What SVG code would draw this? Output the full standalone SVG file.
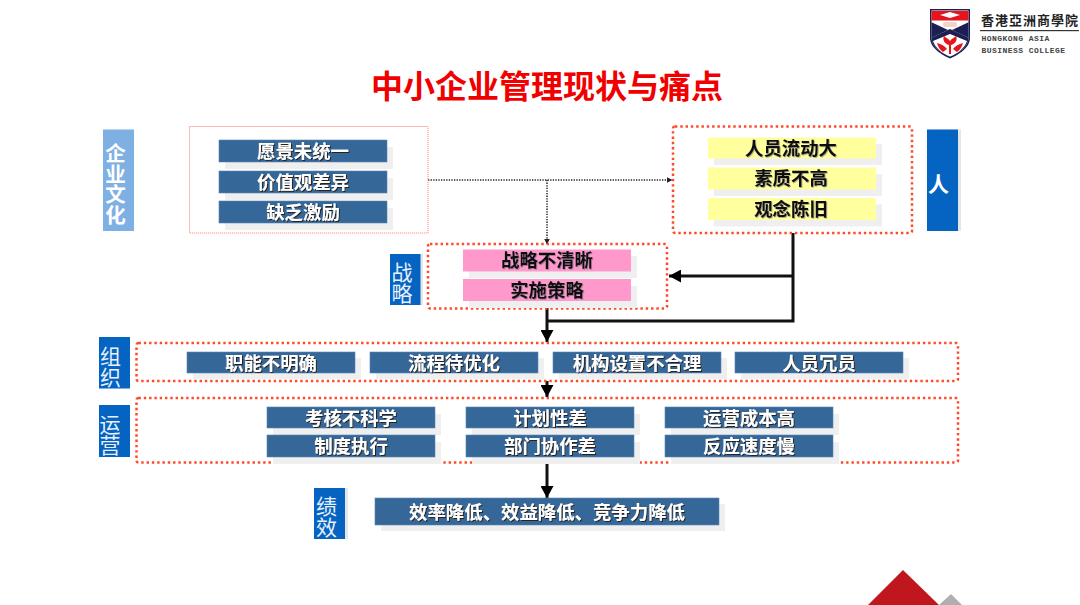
<svg xmlns="http://www.w3.org/2000/svg" width="1080" height="605" viewBox="0 0 1080 605">
<style>
text{font-family:"Noto Sans CJK SC","Noto Sans",sans-serif;text-anchor:middle}
.sh{fill:#efefef}
.blue{fill:#366799;stroke:#5b87b5;stroke-width:.6}
.yel{fill:#ffff9e}
.pink{fill:#ff99cc}
.w{font-size:18.400px;font-weight:700;fill:#fff;filter:url(#ds)}
.k{font-size:18.400px;font-weight:700;fill:#111;filter:url(#dl)}
.side{fill:#0563c1}
.sidesh{fill:#e6e6e6}
.v{writing-mode:vertical-rl;text-anchor:start;font-size:21px;fill:#e8f1fb}
.dot{fill:none;stroke:#ff4a26;stroke-width:2.500;stroke-dasharray:2.400 2.900}
.thick{fill:none;stroke:#111;stroke-width:3}
.thin{fill:none;stroke:#222;stroke-width:1.500;stroke-dasharray:1.300 1.300}
</style>
<defs>
<filter id="ds" x="-10%" y="-20%" width="120%" height="140%"><feDropShadow dx="1" dy="1" stdDeviation="0.3" flood-color="#2a1a0a" flood-opacity="0.95"/></filter>
<filter id="dl" x="-10%" y="-20%" width="120%" height="140%"><feDropShadow dx="0.8" dy="0.8" stdDeviation="0.4" flood-color="#556" flood-opacity="0.6"/></filter>
<marker id="big" markerUnits="userSpaceOnUse" markerWidth="13" markerHeight="13" refX="12" refY="6.500" orient="auto"><path d="M0 0L12 6.500L0 13Z" fill="#000"/></marker>
<marker id="small" markerUnits="userSpaceOnUse" markerWidth="6" markerHeight="6" refX="5.500" refY="3" orient="auto"><path d="M0 0L6 3L0 6Z" fill="#222"/></marker>
<clipPath id="shield"><path d="M931.500 10.500H968.500V38C968.500 47 958 53.500 950 56.500C942 53.500 931.500 47 931.500 38Z"/></clipPath>
</defs>
<rect width="1080" height="605" fill="#fff"/>

<g id="logo">
<path d="M930 9H970V38C970 48 958 55 950 58.500C942 55 930 48 930 38Z" fill="#1d1f52"/>
<g clip-path="url(#shield)">
<rect x="930" y="9" width="40" height="50" fill="#fff"/>
<rect x="930" y="11" width="40" height="9.500" fill="#e8141c"/>
<path d="M940 15L950 12L960 15L950 18Z" fill="#fff"/>
<rect x="943" y="22" width="14" height="5" rx="2" fill="#f0d4cc"/>
<path d="M931 22L948 30L931 38ZM969 22L952 30L969 38Z" fill="#1d1f52"/>
<path d="M931 38L950 29L969 38V60H931Z" fill="#1d1f52"/>
<path d="M950 34L967 41C965 48 957 54 950 57C943 54 935 48 933 41Z" fill="#fff"/>
</g>
<path d="M944 36C946 38 948 38 950 41C952 38 954 38 956 36C958 40 955 44 951 45V54H949V45C945 44 942 40 944 36ZM937 43C941 44 945 46 947 49L943 52C940 50 938 47 937 43ZM963 43C959 44 955 46 953 49L957 52C960 50 962 47 963 43Z" fill="#e8141c"/>
<text x="1030" y="24.500" style="font-family:'Noto Sans CJK TC','Noto Sans CJK SC',sans-serif;font-size:13px;font-weight:700;fill:#222;letter-spacing:1px">香港亞洲商學院</text>
<rect x="980" y="30" width="99" height="1.200" fill="#333"/>
<text x="981.500" y="41" style="font-family:'Liberation Mono',monospace;font-size:8px;font-weight:700;fill:#444;text-anchor:start;letter-spacing:.45px">HONGKONG ASIA</text>
<text x="981.500" y="53" style="font-family:'Liberation Mono',monospace;font-size:8px;font-weight:700;fill:#444;text-anchor:start;letter-spacing:.45px">BUSINESS COLLEGE</text>
</g>

<text id="title" x="547" y="98" style="font-size:32px;font-weight:700;fill:#f00000">中小企业管理现状与痛点</text>

<g id="connectors">
<path class="thin" d="M428 180H672" marker-end="url(#small)"/>
<path class="thin" d="M547 180V244" marker-end="url(#small)"/>
<path class="thick" d="M793 233V321H547"/>
<path class="thick" d="M793 276H669" marker-end="url(#big)"/>
<path class="thick" d="M547 308V342" marker-end="url(#big)"/>
<path class="thick" d="M547 381V397" marker-end="url(#big)"/>
<path class="thick" d="M547 462V498" marker-end="url(#big)"/>
</g>

<g id="node-culture">
<rect x="103" y="129.500" width="31" height="101.500" fill="#7fb0e3"/>
<text class="v" x="115.500" y="143" style="font-size:20.500px;font-weight:700;fill:#fff">企业文化</text>
<rect x="189.500" y="126.500" width="238.500" height="106.500" fill="none" stroke="#ff8f78" stroke-width="1" stroke-dasharray="1.200 .8"/>
<rect class="sh" x="225" y="147" width="168" height="22"/><rect class="blue" x="219" y="140" width="168" height="22"/><text class="w" x="303" y="157.500">愿景未统一</text>
<rect class="sh" x="225" y="178" width="168" height="22"/><rect class="blue" x="219" y="171" width="168" height="22"/><text class="w" x="303" y="188.500">价值观差异</text>
<rect class="sh" x="225" y="208" width="168" height="22"/><rect class="blue" x="219" y="201" width="168" height="22"/><text class="w" x="303" y="218.500">缺乏激励</text>
</g>

<g id="node-people">
<rect class="sidesh" x="930" y="129.500" width="31" height="101.500"/>
<rect class="side" x="927" y="129.500" width="31" height="101.500"/>
<text class="v" x="938.500" y="174" style="font-weight:700;fill:#fff">人</text>
<rect class="dot" x="673" y="126.500" width="239" height="106.500" rx="2"/>
<rect class="sh" x="714" y="144" width="168" height="21"/><rect class="yel" x="708" y="137.500" width="168" height="21"/><text class="k" x="791" y="154.500">人员流动大</text>
<rect class="sh" x="714" y="174" width="168" height="22"/><rect class="yel" x="708" y="167.500" width="168" height="22"/><text class="k" x="791" y="185">素质不高</text>
<rect class="sh" x="714" y="204.500" width="168" height="22"/><rect class="yel" x="708" y="198" width="168" height="22"/><text class="k" x="791" y="215.500">观念陈旧</text>
</g>

<g id="node-strategy">
<rect class="sidesh" x="393" y="254" width="30" height="51"/>
<rect class="side" x="390" y="254" width="30.500" height="51"/>
<text class="v" x="402" y="262">战略</text>
<rect class="dot" x="428" y="244" width="239" height="64.500" rx="2"/>
<rect class="sh" x="469" y="256" width="168" height="22"/><rect class="pink" x="463" y="249.500" width="168" height="22"/><text class="k" x="547" y="267">战略不清晰</text>
<rect class="sh" x="469" y="286" width="168" height="22"/><rect class="pink" x="463" y="279" width="168" height="22"/><text class="k" x="547" y="297">实施策略</text>
</g>

<g id="node-org">
<rect class="side" x="99" y="337" width="31" height="51.500"/>
<text class="v" x="110.500" y="346">组织</text>
<rect class="dot" x="136.500" y="343" width="821.500" height="38" rx="2"/>
<rect class="sh" x="193" y="358" width="168" height="21"/><rect class="blue" x="187" y="352" width="168" height="21"/><text class="w" x="271" y="370">职能不明确</text>
<rect class="sh" x="376" y="358" width="168" height="21"/><rect class="blue" x="370" y="352" width="168" height="21"/><text class="w" x="454" y="370">流程待优化</text>
<rect class="sh" x="559" y="358" width="168" height="21"/><rect class="blue" x="553" y="352" width="168" height="21"/><text class="w" x="637" y="370">机构设置不合理</text>
<rect class="sh" x="741" y="358" width="168" height="21"/><rect class="blue" x="735" y="352" width="168" height="21"/><text class="w" x="819" y="370">人员冗员</text>
</g>

<g id="node-ops">
<rect class="side" x="99" y="405" width="31" height="52"/>
<text class="v" x="110" y="414" style="font-size:21px">运营</text>
<rect class="dot" x="136.500" y="398" width="821.500" height="64.500" rx="2"/>
<rect class="sh" x="273" y="414" width="168" height="21"/><rect class="blue" x="267" y="407" width="168" height="21"/><text class="w" x="351" y="425">考核不科学</text>
<rect class="sh" x="472" y="414" width="168" height="21"/><rect class="blue" x="466" y="407" width="168" height="21"/><text class="w" x="550" y="425">计划性差</text>
<rect class="sh" x="671" y="414" width="168" height="21"/><rect class="blue" x="665" y="407" width="168" height="21"/><text class="w" x="749" y="425">运营成本高</text>
<rect class="sh" x="273" y="442" width="168" height="22"/><rect class="blue" x="267" y="435" width="168" height="22"/><text class="w" x="351" y="453">制度执行</text>
<rect class="sh" x="472" y="442" width="168" height="22"/><rect class="blue" x="466" y="435" width="168" height="22"/><text class="w" x="550" y="453">部门协作差</text>
<rect class="sh" x="671" y="442" width="168" height="22"/><rect class="blue" x="665" y="435" width="168" height="22"/><text class="w" x="749" y="453">反应速度慢</text>
</g>

<g id="node-perf">
<rect class="sidesh" x="317" y="488" width="31" height="51"/>
<rect class="side" x="314" y="488" width="31" height="51"/>
<text class="v" x="326.500" y="496">绩效</text>
<rect class="sh" x="381" y="504" width="344" height="27"/><rect class="blue" x="375" y="498" width="344" height="27"/><text class="w" x="547" y="519">效率降低、效益降低、竞争力降低</text>
</g>

<g id="corner">
<path d="M939 605L951 594L962 605Z" fill="#b0aeae"/>
<path d="M868 605L903 570L939 605Z" fill="#c0171f"/>
</g>
</svg>
